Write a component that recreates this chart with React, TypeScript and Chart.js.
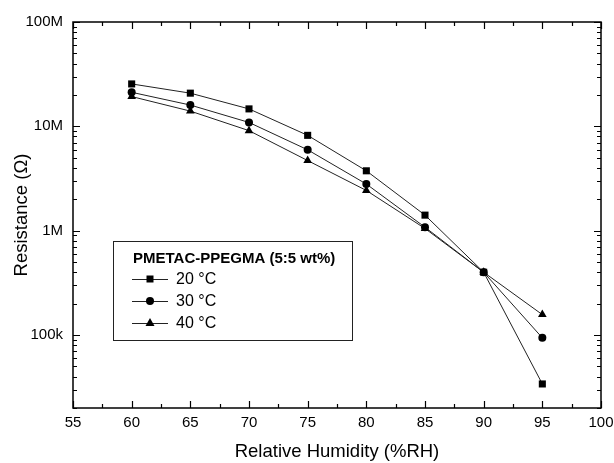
import React, { useEffect, useRef } from 'react';
import { Chart, registerables } from 'chart.js';

Chart.register(...registerables);

// ---- data ----
const humidity = [60, 65, 70, 75, 80, 85, 90, 95];
const r20C = [25.5e6, 20.8e6, 14.7e6, 8.2e6, 3.75e6, 1.41e6, 4.0e5, 3.4e4];
const r30C = [21.2e6, 16.0e6, 10.9e6, 5.96e6, 2.8e6, 1.08e6, 4.0e5, 9.4e4];
const r40C = [19.3e6, 14.0e6, 9.1e6, 4.7e6, 2.43e6, 1.05e6, 4.0e5, 1.57e5];
const seriesLabels = ['20 °C', '30 °C', '40 °C'];
const seriesMarkers = ['rect', 'circle', 'triangle'];
const legendTitle = 'PMETAC-PPEGMA (5:5 wt%)';
const xMin = 55;
const xMax = 100;
const yMin = 2e4;
const yMax = 1e8;
const yTickValues = [1e5, 1e6, 1e7, 1e8];
const yTickLabels = ['100k', '1M', '10M', '100M'];
const xTitle = 'Relative Humidity (%RH)';
const yTitle = 'Resistance (Ω)';

const FONT = '"Liberation Sans", Arial, sans-serif';

function drawMarker(ctx: CanvasRenderingContext2D, style: string, x: number, y: number) {
  ctx.beginPath();
  if (style === 'rect') {
    ctx.rect(x - 3.5, y - 3.5, 7, 7);
  } else if (style === 'circle') {
    ctx.arc(x, y, 4, 0, Math.PI * 2);
  } else {
    ctx.moveTo(x, y - 5);
    ctx.lineTo(x + 4.5, y + 3);
    ctx.lineTo(x - 4.5, y + 3);
    ctx.closePath();
  }
  ctx.fill();
}

const framePlugin = {
  id: 'frameTicks',
  afterDatasetsDraw(chart: any) {
    const { ctx, chartArea: a, scales } = chart;
    const xs = scales.x;
    const ys = scales.y;
    ctx.save();
    ctx.strokeStyle = '#000';
    ctx.lineWidth = 1.2;
    ctx.beginPath();
    xs.ticks.forEach((t: any) => {
      const px = Math.round(xs.getPixelForValue(t.value)) + 0.5;
      const major = Math.abs(t.value % 5) < 1e-9;
      const len = major ? 7 : 4;
      ctx.moveTo(px, a.bottom);
      ctx.lineTo(px, a.bottom - len);
      ctx.moveTo(px, a.top);
      ctx.lineTo(px, a.top + len);
    });
    ys.ticks.forEach((t: any) => {
      const py = Math.round(ys.getPixelForValue(t.value)) + 0.5;
      const major = yTickValues.indexOf(t.value) >= 0;
      const len = major ? 7 : 4;
      ctx.moveTo(a.left, py);
      ctx.lineTo(a.left + len, py);
      ctx.moveTo(a.right, py);
      ctx.lineTo(a.right - len, py);
    });
    ctx.stroke();
    ctx.lineWidth = 1.5;
    ctx.strokeRect(a.left, a.top, a.right - a.left, a.bottom - a.top);

    // legend box
    const bx = 113, by = 241, bw = 239, bh = 99;
    ctx.lineWidth = 1;
    ctx.strokeStyle = '#222';
    ctx.strokeRect(bx + 0.5, by + 0.5, bw, bh);
    ctx.fillStyle = '#000';
    ctx.font = `bold 15px ${FONT}`;
    ctx.textBaseline = 'middle';
    ctx.textAlign = 'left';
    ctx.fillText(legendTitle, 133, 259);
    const rowY = [279, 301, 323];
    chart.data.datasets.forEach((ds: any, i: number) => {
      const yy = rowY[i];
      ctx.strokeStyle = '#222';
      ctx.lineWidth = 1;
      ctx.beginPath();
      ctx.moveTo(132, yy + 0.5);
      ctx.lineTo(168, yy + 0.5);
      ctx.stroke();
      ctx.fillStyle = '#000';
      drawMarker(ctx, seriesMarkers[i], 150, yy);
      ctx.font = `16px ${FONT}`;
      ctx.fillText(ds.label, 176, yy + 1);
    });
    ctx.restore();
  },
};

function makeData(vals: number[]) {
  return humidity.map((h, i) => ({ x: h, y: vals[i] }));
}

export default function App() {
  const ref = useRef<HTMLCanvasElement | null>(null);
  useEffect(() => {
    if (!ref.current) return;
    const seriesValues = [r20C, r30C, r40C];
    const radii = [5, 4, 5];
    const chart = new Chart(ref.current, {
      type: 'line',
      data: {
        datasets: seriesValues.map((vals, i) => ({
          label: seriesLabels[i],
          data: makeData(vals),
          borderColor: '#222',
          borderWidth: 1,
          backgroundColor: '#000',
          pointBackgroundColor: '#000',
          pointBorderColor: '#000',
          pointBorderWidth: 0,
          pointStyle: seriesMarkers[i] as any,
          pointRadius: radii[i],
          tension: 0,
        })),
      },
      options: {
        animation: false,
        responsive: false,
        layout: { padding: { left: 0, top: 22, right: 13, bottom: 0 } },
        plugins: {
          legend: { display: false },
          tooltip: { enabled: false },
        },
        scales: {
          x: {
            type: 'linear',
            min: xMin,
            max: xMax,
            grid: { display: false },
            border: { display: false },
            ticks: {
              stepSize: 2.5,
              autoSkip: false,
              maxRotation: 0,
              padding: -2,
              color: '#000',
              font: { family: FONT, size: 15 },
              callback: (v: any) => (Math.abs(Number(v) % 5) < 1e-9 ? String(v) : ''),
            },
            title: {
              display: true,
              text: xTitle,
              color: '#000',
              font: { family: FONT, size: 18.5 },
              padding: { top: 0, bottom: 0 },
            },
            afterFit: (s: any) => {
              s.height = 55;
              s.paddingLeft = 0;
              s.paddingRight = 0;
            },
          },
          y: {
            type: 'logarithmic',
            min: yMin,
            max: yMax,
            grid: { display: false },
            border: { display: false },
            afterBuildTicks: (s: any) => {
              const ticks: any[] = [];
              for (let e = 4; e <= 8; e++) {
                for (let m = 1; m <= 9; m++) {
                  const v = m * Math.pow(10, e);
                  if (v >= yMin && v <= yMax) ticks.push({ value: v });
                }
              }
              s.ticks = ticks;
            },
            ticks: {
              autoSkip: false,
              padding: 2,
              color: '#000',
              font: { family: FONT, size: 15 },
              callback: (v: any) => {
                const i = yTickValues.indexOf(Number(v));
                return i >= 0 ? yTickLabels[i] : '';
              },
            },
            title: {
              display: true,
              text: yTitle,
              color: '#000',
              font: { family: FONT, size: 18.5 },
              padding: { top: 11, bottom: 0 },
            },
            afterFit: (s: any) => {
              s.width = 73;
              s.paddingTop = 0;
              s.paddingBottom = 0;
            },
          },
        },
      },
      plugins: [framePlugin],
    });
    return () => chart.destroy();
  }, []);
  return (
    <div style={{ position: 'absolute', left: 0, top: 0, width: 614, height: 463, background: '#fff' }}>
      <canvas ref={ref} width={614} height={463} style={{ display: 'block' }} />
    </div>
  );
}
